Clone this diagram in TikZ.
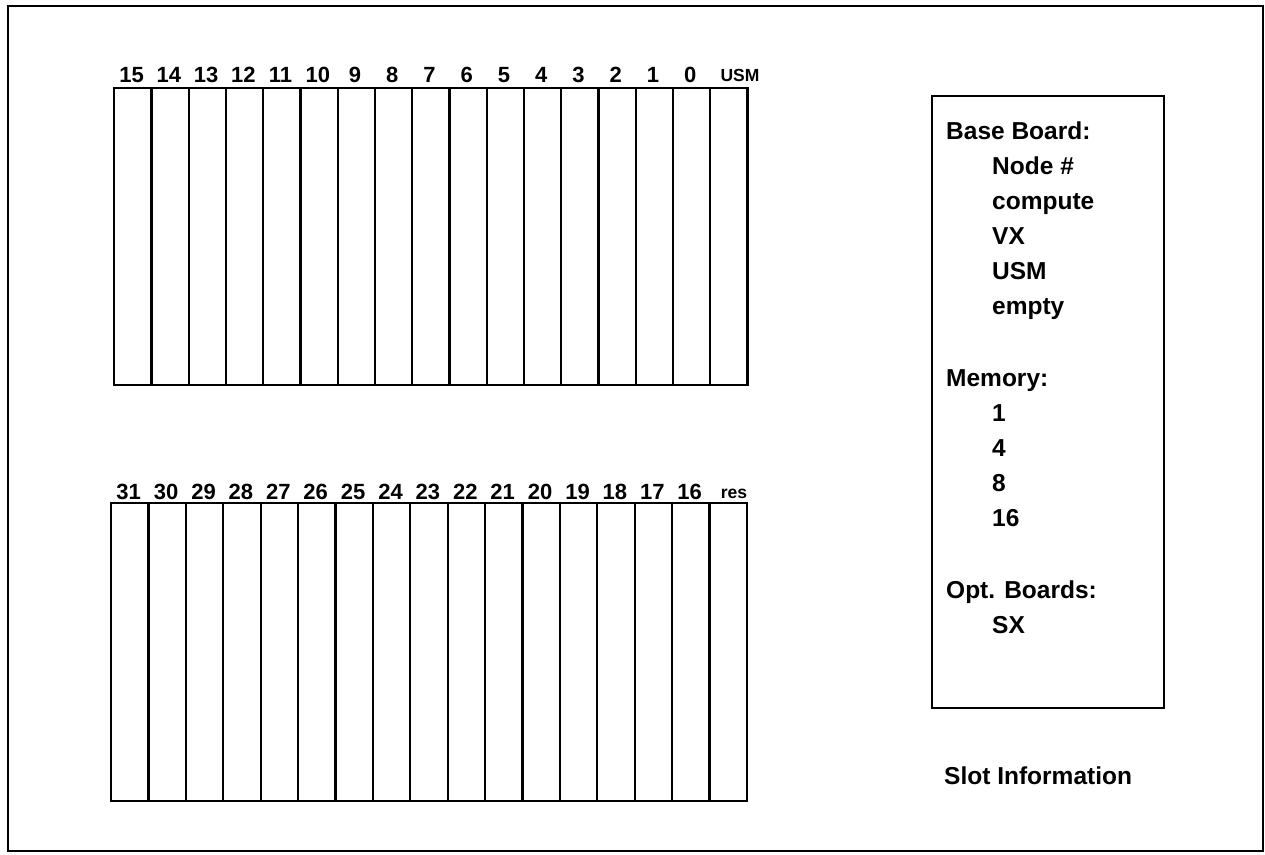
\documentclass[tikz,border=0pt]{standalone}
\usepackage{fontspec}
\setmainfont{Liberation Sans}
\begin{document}
\begin{tikzpicture}[x=1pt,y=-1pt,
  slot/.style={draw,line width=2.2pt,minimum width=37.3pt,minimum height=297pt,inner sep=0pt,anchor=north west},
  num/.style={font=\fontsize{22}{22}\selectfont\bfseries,inner sep=0pt,anchor=base},
  small/.style={font=\fontsize{17.5}{17.5}\selectfont\bfseries,inner sep=0pt,anchor=base},
  info/.style={font=\fontsize{24.5}{24.5}\selectfont\bfseries,inner sep=0pt,anchor=base west}]
\useasboundingbox (0,0) rectangle (1265,854);
\draw[line width=2.6pt] (8,6) rectangle (1263,851);
% top row
\foreach \i/\t in {0/15,1/14,2/13,3/12,4/11,5/10,6/9,7/8,8/7,9/6,10/5,11/4,12/3,13/2,14/1,15/0}{
  \node[slot] (ts\i) at ({113+\i*37.25},87) {};
  \node[num] (tl\i) at ({113+\i*37.25+18.6},82) {\t};
}
\node[slot] (ts16) at ({113+16*37.25},87) {};
\node[small] (tl16) at (740,81) {USM};
% bottom row
\foreach \i/\t in {0/31,1/30,2/29,3/28,4/27,5/26,6/25,7/24,8/23,9/22,10/21,11/20,12/19,13/18,14/17,15/16}{
  \node[slot,minimum height=298pt] (bs\i) at ({110+\i*37.4},502) {};
  \node[num] (bl\i) at ({110+\i*37.4+18.7},499) {\t};
}
\node[slot,minimum height=298pt] (bs16) at ({110+16*37.4},502) {};
\node[small] (bl16) at (734,498) {res};
% info box
\node[draw,line width=2.2pt,minimum width=232pt,minimum height=612pt,inner sep=0pt,anchor=north west] (box) at (931,95) {};
\node[info] (bb) at (946,139) {Base Board:};
\node[info] (i1) at (992,174) {Node \#};
\node[info] (i2) at (992,209) {compute};
\node[info] (i3) at (992,244) {VX};
\node[info] (i4) at (992,279) {USM};
\node[info] (i5) at (992,314) {empty};
\node[info] (mem) at (946,386) {Memory:};
\node[info] (m1) at (992,421) {1};
\node[info] (m2) at (992,456) {4};
\node[info] (m3) at (992,491) {8};
\node[info] (m4) at (992,526) {16};
\node[info] (opt) at (946,598) {Opt. Boards:};
\node[info] (sx) at (992,633) {SX};
\node[info] (si) at (944,784) {Slot Information};
\end{tikzpicture}
\end{document}
